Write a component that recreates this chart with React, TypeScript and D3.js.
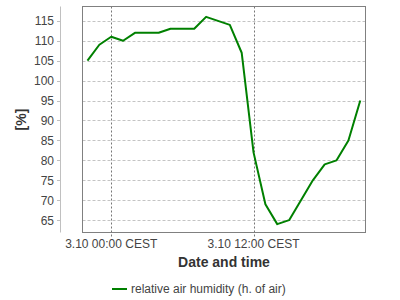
import React from "react";
import * as d3 from "d3";

// Hours relative to 3.10 00:00 CEST
const hours = [-2, -1, 0, 1, 2, 3, 4, 5, 6, 7, 8, 9, 10, 11, 12, 13, 14, 15, 16, 17, 18, 19, 20, 21];
const humidity = [105, 109, 111, 110, 112, 112, 112, 113, 113, 113, 116, 115, 114, 107, 82, 69, 64, 65, 70, 75, 79, 80, 85, 95];
const yTicks = [65, 70, 75, 80, 85, 90, 95, 100, 105, 110, 115];
const xTickHours = [0, 12];
const xTickLabels = ["3.10 00:00 CEST", "3.10 12:00 CEST"];
const seriesName = "relative air humidity (h. of air)";
const xTitle = "Date and time";
const yTitle = "[%]";

const W = 400;
const H = 300;
const L = 82.5, R = 365.5, T = 6.5, B = 232.5;

export default function App() {
  const x = d3.scaleLinear().domain([-2.42, 21.44]).range([L, R]);
  const y = d3.scaleLinear().domain([61.9, 118.6]).range([B, T]);
  const line = d3
    .line<number>()
    .x((_, i) => x(hours[i]))
    .y((d) => y(d));
  const font = "'Liberation Sans', Arial, sans-serif";
  const crisp = (v: number) => Math.round(v) + 0.5;
  return (
    <svg
      width={W}
      height={H}
      style={{ position: "absolute", left: 0, top: 0, background: "#fff" }}
      fontFamily={font}
    >
      <rect x={0} y={0} width={W} height={H} fill="#fff" />
      {/* horizontal grid */}
      {yTicks.map((t) => (
        <line
          key={"g" + t}
          x1={L}
          x2={R}
          y1={crisp(y(t))}
          y2={crisp(y(t))}
          stroke="#c4c4c4"
          strokeDasharray="3,2"
        />
      ))}
      {/* vertical grid */}
      {xTickHours.map((h) => (
        <line
          key={"v" + h}
          x1={crisp(x(h))}
          x2={crisp(x(h))}
          y1={T}
          y2={B + 4}
          stroke="#777"
          strokeDasharray="2,2"
        />
      ))}
      {/* plot border */}
      <rect x={L} y={T} width={R - L} height={B - T} fill="none" stroke="#808080" />
      {/* y axis */}
      <line x1={60.5} x2={60.5} y1={T} y2={B} stroke="#c0c0c0" />
      {yTicks.map((t) => (
        <g key={"t" + t}>
          <line x1={57} x2={60.5} y1={crisp(y(t))} y2={crisp(y(t))} stroke="#c0c0c0" />
          <text x={54} y={y(t) + 4.5} textAnchor="end" fontSize={12} fill="#444">
            {t}
          </text>
        </g>
      ))}
      {/* x tick labels */}
      {xTickHours.map((h, i) => (
        <text key={"xl" + h} x={x(h)} y={248} textAnchor="middle" fontSize={12} fill="#444">
          {xTickLabels[i]}
        </text>
      ))}
      {/* line */}
      <path d={line(humidity) || ""} fill="none" stroke="#008000" strokeWidth={2} strokeLinejoin="round" />
      {/* axis titles */}
      <text x={(L + R) / 2} y={267} textAnchor="middle" fontSize={14} fontWeight="bold" fill="#333">
        {xTitle}
      </text>
      <text
        transform={`translate(26,${(T + B) / 2}) rotate(-90)`}
        textAnchor="middle"
        fontSize={14}
        fontWeight="bold"
        fill="#333"
      >
        {yTitle}
      </text>
      {/* legend */}
      <line x1={112} x2={127} y1={289} y2={289} stroke="#008000" strokeWidth={2} />
      <text x={131} y={293} fontSize={12} fill="#444">
        {seriesName}
      </text>
    </svg>
  );
}
